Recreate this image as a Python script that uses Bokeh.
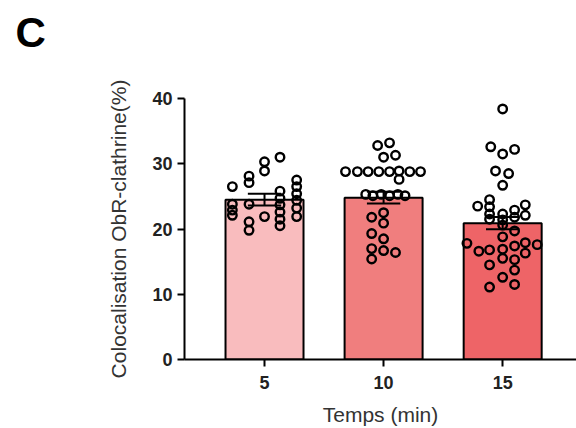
from bokeh.plotting import figure
from bokeh.models import Range1d, FixedTicker, Title
from bokeh.embed import file_html
from bokeh.resources import INLINE

# ---------------- data ----------------
categories = ["5", "10", "15"]
bar_means = [24.5, 24.8, 20.9]
bar_sems = [0.9, 0.9, 0.95]
bar_colors = ["#F9BCBE", "#F07E7E", "#EE6467"]

# individual points per group: values and horizontal jitter (category units)
g1_vals = [31.0, 30.3, 28.9, 28.1, 27.1, 26.5, 27.5, 26.5, 25.4, 25.8, 24.7, 24.4,
           23.8, 23.8, 22.9, 22.1, 23.7, 23.2, 22.6, 21.9, 21.9, 21.5, 21.1, 20.5, 19.8]
g1_jit = [0.13, 0.0, 0.0, -0.13, -0.13, -0.27, 0.27, 0.27, 0.27, 0.13, 0.13, 0.27,
          -0.13, -0.27, -0.27, -0.27, 0.13, 0.27, 0.13, 0.27, 0.0, 0.13, -0.13, 0.13, -0.13]

g2_vals = [32.8, 33.2, 31.0, 31.3,
           28.8, 28.8, 28.8, 28.8, 28.8, 28.9, 28.8, 28.8, 27.6,
           25.3, 25.1, 25.3, 25.1, 25.3, 25.1,
           22.5, 21.8, 20.9, 19.3, 18.5, 17.0, 16.7, 16.4, 15.4]
g2_jit = [-0.05, 0.05, 0.0, 0.10,
          -0.32, -0.22, -0.13, -0.04, 0.05, 0.13, 0.22, 0.31, 0.13,
          -0.15, -0.09, -0.02, 0.05, 0.12, 0.18,
          0.0, -0.10, 0.0, -0.10, 0.0, -0.10, 0.0, 0.10, -0.10]

g3_vals = [38.4, 32.6, 31.5, 32.2, 28.9, 28.5, 26.7,
           24.5, 23.5, 23.4, 23.7, 22.9, 22.1, 22.3, 22.3, 21.8, 21.5, 21.4,
           20.6, 19.7, 18.8, 17.8, 17.6, 17.9, 16.6, 16.8, 16.9, 17.4,
           15.5, 15.3, 16.3, 14.5, 13.7, 12.6, 11.1, 11.5]
g3_jit = [0.0, -0.10, 0.0, 0.10, -0.06, 0.05, 0.0,
          -0.11, -0.21, -0.11, 0.19, 0.10, 0.19, 0.0, -0.11, 0.10, -0.11, 0.0,
          0.0, 0.10, 0.0, -0.30, 0.29, 0.19, -0.20, -0.11, 0.0, 0.10,
          0.0, 0.10, 0.19, -0.11, 0.10, 0.0, -0.11, 0.10]

y_ticks = [0, 10, 20, 30, 40]
y_label = "Colocalisation ObR-clathrine(%)"
x_label = "Temps (min)"
panel_letter = "C"

# ---------------- figure ----------------
FONT = "Liberation Sans"
p = figure(width=576, height=428, output_backend="svg", toolbar_location=None,
           x_range=Range1d(0.328, 3.62), y_range=Range1d(0, 40),
           min_border_left=184, min_border_right=0, min_border_top=98,
           min_border_bottom=68)
p.outline_line_color = None
p.grid.visible = False
p.background_fill_color = "white"
p.border_fill_color = "white"

xs = [i + 1 for i in range(len(categories))]

# bars
p.vbar(x=xs, top=bar_means, width=0.655, bottom=0, fill_color=bar_colors,
       line_color="black", line_width=2)

# error bars (SEM)
lo = [m - s for m, s in zip(bar_means, bar_sems)]
hi = [m + s for m, s in zip(bar_means, bar_sems)]
p.segment(x0=xs, y0=lo, x1=xs, y1=hi, line_color="black", line_width=2)
cap = 0.14
p.segment(x0=[x - cap for x in xs], y0=hi, x1=[x + cap for x in xs], y1=hi,
          line_color="black", line_width=2)
p.segment(x0=[x - cap for x in xs], y0=lo, x1=[x + cap for x in xs], y1=lo,
          line_color="black", line_width=2)

# individual points
for gx, vals, jit in [(1, g1_vals, g1_jit), (2, g2_vals, g2_jit), (3, g3_vals, g3_jit)]:
    p.scatter(x=[gx + j for j in jit], y=vals, marker="circle", size=8.5,
              fill_color=None, line_color="black", line_width=2.4)

# axes
p.yaxis.ticker = FixedTicker(ticks=y_ticks)
p.xaxis.ticker = FixedTicker(ticks=xs)
p.xaxis.major_label_overrides = {x: c for x, c in zip(xs, categories)}
for ax in (p.xaxis, p.yaxis):
    ax.axis_line_width = 2
    ax.axis_line_color = "black"
    ax.major_tick_line_width = 2
    ax.major_tick_line_color = "black"
    ax.major_tick_in = 0
    ax.major_tick_out = 7
    ax.minor_tick_line_color = None
    ax.major_label_text_font = FONT
    ax.major_label_text_font_style = "bold"
    ax.major_label_text_font_size = "18px"
    ax.major_label_text_color = "#222222"
    ax.axis_label_text_font = FONT
    ax.axis_label_text_font_style = "normal"
    ax.axis_label_text_font_size = "21px"
    ax.axis_label_text_color = "#333333"
p.xaxis.major_label_standoff = 9
p.yaxis.major_label_standoff = 5
p.xaxis.axis_label = x_label
p.yaxis.axis_label = y_label
p.xaxis.axis_label_standoff = 11
p.yaxis.axis_label_standoff = 19

# spacer (blank) between the frame and the panel letter
p.add_layout(Title(text=" ", text_font=FONT, text_font_size="10px", standoff=30), "above")
# panel letter
p.add_layout(Title(text=panel_letter, align="left", offset=-169, standoff=0,
                   text_font=FONT, text_font_style="bold", text_font_size="42px",
                   text_color="black"), "above")

open("out.html", "w").write(file_html(p, INLINE))
